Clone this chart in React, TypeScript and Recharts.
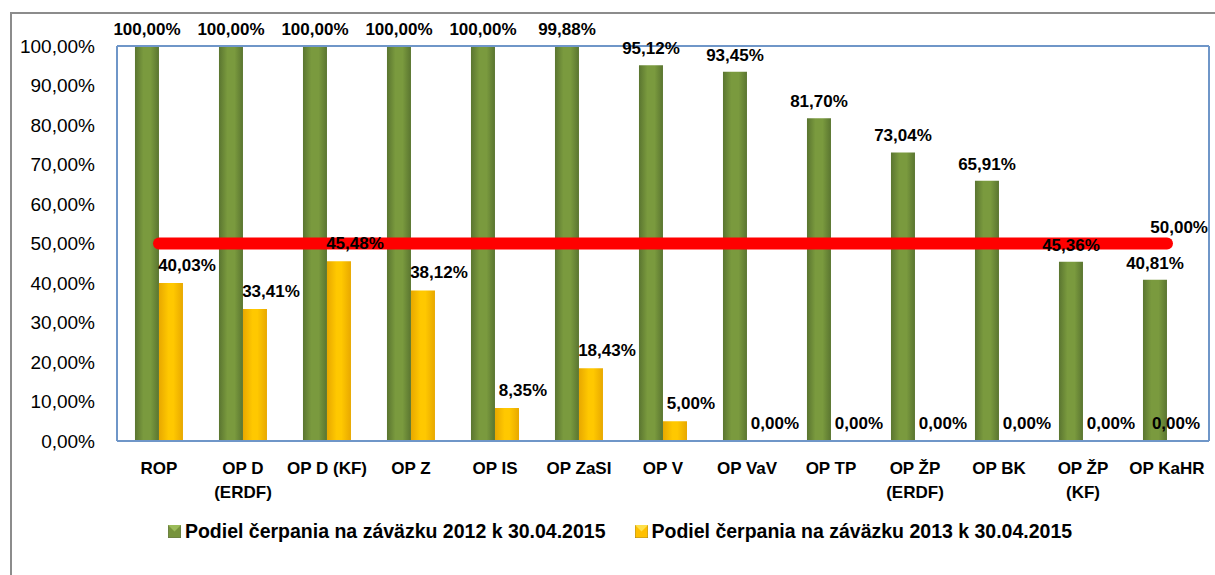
import React from 'react';
import { ComposedChart, Bar, Line, XAxis, YAxis, CartesianGrid, LabelList, ReferenceLine } from 'recharts';

const categories = ['ROP', 'OP D\n(ERDF)', 'OP D (KF)', 'OP Z', 'OP IS', 'OP ZaSI', 'OP V', 'OP VaV', 'OP TP', 'OP ŽP\n(ERDF)', 'OP BK', 'OP ŽP\n(KF)', 'OP KaHR'];
const share2012 = [100, 100, 100, 100, 100, 99.88, 95.12, 93.45, 81.7, 73.04, 65.91, 45.36, 40.81];
const share2013 = [40.03, 33.41, 45.48, 38.12, 8.35, 18.43, 5.0, 0, 0, 0, 0, 0, 0];
const threshold = [50, 50, 50, 50, 50, 50, 50, 50, 50, 50, 50, 50, 50];
const yTicks = [0, 10, 20, 30, 40, 50, 60, 70, 80, 90, 100];
const legendNames = ['Podiel čerpania na záväzku 2012 k 30.04.2015', 'Podiel čerpania na záväzku 2013 k 30.04.2015'];

const data = categories.map((name, i) => ({
  name,
  s2012: share2012[i],
  s2013: share2013[i],
  limit: threshold[i],
}));

const FONT = '"Liberation Sans", Arial, sans-serif';
const BLUE = '#6f96c8';
const fmt = (v: number) => v.toFixed(2).replace('.', ',') + '%';

const CategoryTick = (props: any) => {
  const { x, y, payload } = props;
  const lines = String(payload.value).split('\n');
  return (
    <text x={x} y={y} textAnchor="middle" fontFamily={FONT} fontSize={17} fontWeight="bold" fill="#000">
      {lines.map((l, i) => (
        <tspan key={i} x={x} y={y + 25 + i * 24}>{l}</tspan>
      ))}
    </text>
  );
};

const LimitLabel = (props: any) => {
  const { x, y, index } = props;
  if (index !== categories.length - 1) return null;
  return (
    <text x={x + 41} y={y - 11} textAnchor="end" fontFamily={FONT} fontSize={17} fontWeight="bold" fill="#000">
      {fmt(threshold[index])}
    </text>
  );
};

// labels for the yellow series, drawn also for zero values; kept inside the plot on the right
const YellowLabel = (props: any) => {
  const { x, y, width, value } = props;
  const cx = Math.min(x + width / 2 + 16, 1176);
  return (
    <text x={cx} y={y - 12} textAnchor="middle" fontFamily={FONT} fontSize={17} fontWeight="bold" fill="#000">
      {fmt(Number(value))}
    </text>
  );
};

const LegendSwatch = ({ fill, tri }: { fill: string; tri: string }) => (
  <svg width={13} height={13} style={{ marginRight: 4 }}>
    <rect x={0} y={0} width={13} height={13} fill={fill} stroke="#555" strokeWidth={0.5} />
    <polygon points="0,0 13,0 6.5,6.5" fill={tri} />
  </svg>
);

export default function App() {
  return (
    <div style={{ position: 'absolute', left: 0, top: 0, width: 1215, height: 575, background: '#fff' }}>
      <div style={{ position: 'absolute', left: 10, top: 12, width: 1210, height: 570, borderLeft: '2px solid #8c8c8c', borderTop: '2px solid #8c8c8c' }} />
      <ComposedChart
        width={1215}
        height={575}
        data={data}
        margin={{ top: 46, right: 0, left: 0, bottom: 0 }}
        barGap={0}
        barCategoryGap="21.4%"
        style={{ position: 'absolute', left: 0, top: 0 }}
      >
        <defs>
          <linearGradient id="gGreen" x1="0" y1="0" x2="1" y2="0">
            <stop offset="0%" stopColor="#5a7530" />
            <stop offset="35%" stopColor="#7a9a3e" />
            <stop offset="65%" stopColor="#7a9a3e" />
            <stop offset="100%" stopColor="#5a7530" />
          </linearGradient>
          <linearGradient id="gYellow" x1="0" y1="0" x2="1" y2="0">
            <stop offset="0%" stopColor="#e8a800" />
            <stop offset="40%" stopColor="#ffc800" />
            <stop offset="60%" stopColor="#ffc800" />
            <stop offset="100%" stopColor="#e8a800" />
          </linearGradient>
        </defs>
        <CartesianGrid vertical={false} stroke="#8c8c8c" strokeWidth={1.5} />
        <XAxis
          dataKey="name"
          height={134}
          interval={0}
          tick={<CategoryTick />}
          tickLine={false}
          axisLine={{ stroke: BLUE, strokeWidth: 2 }}
        />
        <YAxis
          yAxisId="left"
          width={117}
          domain={[0, 100]}
          ticks={yTicks}
          tickFormatter={fmt}
          tickLine={false}
          tickSize={0}
          tickMargin={22}
          axisLine={{ stroke: BLUE, strokeWidth: 2 }}
          tick={{ fontFamily: FONT, fontSize: 19, fill: '#000' }}
        />
        <YAxis
          yAxisId="right"
          orientation="right"
          width={6}
          domain={[0, 100]}
          tick={false}
          tickLine={false}
          axisLine={{ stroke: BLUE, strokeWidth: 2 }}
        />
        <ReferenceLine yAxisId="left" y={100} stroke={BLUE} strokeWidth={2} />
        <Bar yAxisId="left" dataKey="s2012" fill="url(#gGreen)" isAnimationActive={false}>
          <LabelList
            dataKey="s2012"
            position="top"
            offset={11}
            formatter={(v: any) => fmt(Number(v))}
            style={{ fontFamily: FONT, fontSize: 17, fontWeight: 'bold', fill: '#000' }}
          />
        </Bar>
        <Bar yAxisId="left" dataKey="s2013" fill="url(#gYellow)" minPointSize={0.5} isAnimationActive={false}>
          <LabelList dataKey="s2013" content={<YellowLabel />} />
        </Bar>
        <Line
          yAxisId="left"
          dataKey="limit"
          stroke="#ff0000"
          strokeWidth={12}
          strokeLinecap="round"
          dot={false}
          activeDot={false}
          isAnimationActive={false}
        >
          <LabelList dataKey="limit" content={<LimitLabel />} />
        </Line>
      </ComposedChart>
      <div
        style={{
          position: 'absolute',
          left: 0,
          top: 520,
          width: 1240,
          display: 'flex',
          justifyContent: 'center',
          alignItems: 'center',
          fontFamily: FONT,
          fontSize: 19.5,
          fontWeight: 'bold',
          color: '#000',
        }}
      >
        <span style={{ display: 'flex', alignItems: 'center', marginRight: 29 }}>
          <LegendSwatch fill="#77933c" tri="#9bbb59" />
          {legendNames[0]}
        </span>
        <span style={{ display: 'flex', alignItems: 'center' }}>
          <LegendSwatch fill="#ffc000" tri="#ffe04a" />
          {legendNames[1]}
        </span>
      </div>
    </div>
  );
}
